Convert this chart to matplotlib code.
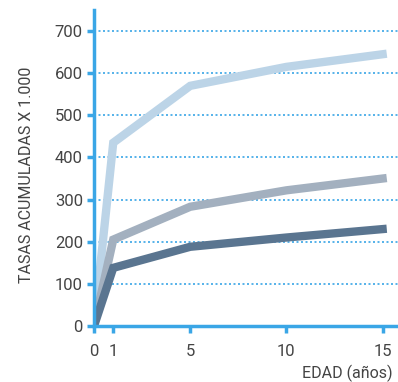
import matplotlib
matplotlib.use('Agg')
from matplotlib import pyplot as plt

plt.rcParams['font.family'] = ['Roboto', 'DejaVu Sans']

# ages (years) and cumulative rates x 1.000
edad = [0, 1, 5, 10, 15]
serie_clara = [0, 435, 570, 615, 645]
serie_media = [0, 205, 283, 322, 350]
serie_oscura = [0, 138, 188, 210, 230]

yticks = [0, 100, 200, 300, 400, 500, 600, 700]
xticks = [0, 1, 5, 10, 15]

azul = '#3aa6e6'
texto = '#444444'

fig = plt.figure(figsize=(3.98, 3.82), dpi=100)
ax = fig.add_axes([94 / 398, 1 - 326 / 382, 1 - 94 / 398, 316 / 382])

ax.set_xlim(0, 15.8)
ax.set_ylim(0, 750)

# dotted grid lines
for y in yticks[1:]:
    ax.axhline(y, color=azul, lw=1.2, ls=(0, (1.2, 1.5)), zorder=1)

ax.plot(edad, serie_clara, color='#bcd4e7', lw=6, solid_joinstyle='miter', zorder=3)
ax.plot(edad, serie_media, color='#a3b0bf', lw=6, solid_joinstyle='miter', zorder=4)
ax.plot(edad, serie_oscura, color='#5a7590', lw=6, solid_joinstyle='miter', zorder=5)

for s in ['top', 'right']:
    ax.spines[s].set_visible(False)
for s in ['left', 'bottom']:
    ax.spines[s].set_color(azul)
    ax.spines[s].set_linewidth(2.5)
    ax.spines[s].set_zorder(6)

ax.set_xticks(xticks)
ax.set_yticks(yticks)
ax.tick_params(colors=azul, width=2.5, length=5, direction='out', labelcolor=texto, labelsize=12)
ax.tick_params(axis='x', pad=8)
ax.tick_params(axis='y', pad=3)

fig.text(27 / 398, 1 - 175 / 382, 'TASAS ACUMULADAS X 1.000', rotation=90, ha='center', va='center',
         color=texto, fontsize=11.5)
fig.text(393 / 398, 1 - 373 / 382, 'EDAD (años)', ha='right', va='center', color=texto, fontsize=11.5)

fig.savefig('out.png', dpi=100)
